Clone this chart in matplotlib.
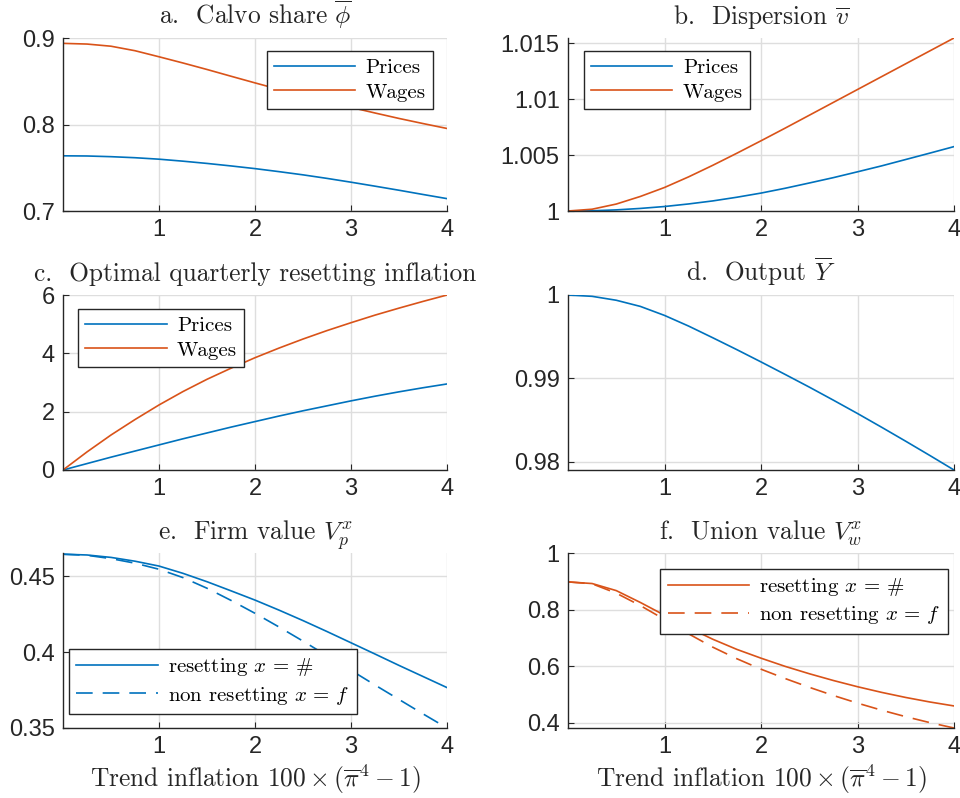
import matplotlib
matplotlib.use("Agg")
import matplotlib.pyplot as plt
from matplotlib.ticker import FixedLocator, FuncFormatter

plt.rcParams['mathtext.fontset'] = 'cm'
plt.rcParams['font.family'] = 'Liberation Sans'

BLUE = '#0072BD'
ORANGE = '#D95319'
DARK = '#262626'

# trend inflation grid (x axis)
infl = [0, 0.25, 0.5, 0.75, 1, 1.25, 1.5, 1.75, 2, 2.25, 2.5, 2.75, 3, 3.25, 3.5, 3.75, 4]

# a. Calvo share
calvo_p = [0.7638, 0.7636, 0.7628, 0.7616, 0.7599, 0.7576, 0.7550, 0.7521, 0.7490, 0.7455,
           0.7418, 0.7377, 0.7333, 0.7287, 0.7240, 0.7191, 0.7143]
calvo_w = [0.8938, 0.8930, 0.8905, 0.8853, 0.8783, 0.8711, 0.8636, 0.8558, 0.8481, 0.8406,
           0.8334, 0.8265, 0.8198, 0.8133, 0.8070, 0.8011, 0.7954]

# b. Dispersion
disp_p = [1.0, 1.00002, 1.0001, 1.00023, 1.0004, 1.00063, 1.0009, 1.00123, 1.0016, 1.00203,
          1.0025, 1.00298, 1.0035, 1.00403, 1.0046, 1.00517, 1.00575]
disp_w = [1.0, 1.00016, 1.00062, 1.0013, 1.0021, 1.00305, 1.00408, 1.00516, 1.00627, 1.0074,
          1.00855, 1.0097, 1.01085, 1.012, 1.01315, 1.0143, 1.01545]

# c. Optimal quarterly resetting inflation
reset_p = [0, 0.22, 0.44, 0.65, 0.86, 1.07, 1.27, 1.47, 1.66, 1.85, 2.03, 2.2, 2.37, 2.53,
           2.68, 2.82, 2.95]
reset_w = [0, 0.62, 1.2, 1.73, 2.23, 2.69, 3.11, 3.49, 3.85, 4.18, 4.49, 4.78, 5.05, 5.31,
           5.55, 5.78, 6.0]

# d. Output
output = [1.0, 0.99984, 0.99937, 0.99863, 0.99755, 0.99627, 0.99487, 0.99344, 0.99197, 0.99047,
          0.98895, 0.98738, 0.98578, 0.98413, 0.98245, 0.98074, 0.97900]

# e. Firm value
firm_reset = [0.4644, 0.4639, 0.4623, 0.4598, 0.4566, 0.4518, 0.4463, 0.4403, 0.4342, 0.4276,
              0.4207, 0.4135, 0.4061, 0.3987, 0.3912, 0.3839, 0.3766]
firm_nonreset = [0.4644, 0.4637, 0.4615, 0.4585, 0.4545, 0.4490, 0.4420, 0.4340, 0.4255, 0.4165,
                 0.4072, 0.3976, 0.3880, 0.3783, 0.3688, 0.3593, 0.3500]

# f. Union value
union_reset = [0.8978, 0.892, 0.867, 0.825, 0.780, 0.736, 0.695, 0.659, 0.628, 0.599,
               0.573, 0.549, 0.527, 0.507, 0.489, 0.473, 0.459]
union_nonreset = [0.8978, 0.891, 0.858, 0.814, 0.765, 0.714, 0.667, 0.626, 0.589, 0.556,
                  0.525, 0.496, 0.469, 0.444, 0.421, 0.400, 0.381]

titles = [r'a.  Calvo share $\overline{\phi}$',
          r'b.  Dispersion $\overline{v}$',
          r'c.  Optimal quarterly resetting inflation',
          r'd.  Output $\overline{Y}$',
          r'e.  Firm value $V_p^x$',
          r'f.  Union value $V_w^x$']
xlab = r'Trend inflation $100\times(\overline{\pi}^4-1)$'
lab_res = r'resetting $x\,=\,\#$'
lab_non = r'non resetting $x\,=\,f$'

W, H = 960, 798
fig = plt.figure(figsize=(W / 100, H / 100), dpi=100)


def make_ax(left, top, right, bottom):
    return fig.add_axes([left / W, 1 - bottom / H, (right - left) / W, (bottom - top) / H])


boxes = [(63, 38, 447, 211), (568, 38, 954, 211),
         (63, 295, 447, 470), (568, 295, 954, 470),
         (63, 553, 447, 728), (568, 553, 954, 728)]
axs = [make_ax(*b) for b in boxes]

serif = dict(family='cmr10', size=18.3)
legfont = dict(family='cmr10', size=15)


def style(ax, title, ylim, yticks):
    ax.set_xlim(0, 4)
    ax.set_ylim(*ylim)
    ax.xaxis.set_major_locator(FixedLocator([1, 2, 3, 4]))
    ax.yaxis.set_major_locator(FixedLocator(yticks))
    ax.yaxis.set_major_formatter(FuncFormatter(lambda v, p: f'{v:g}'))
    ax.grid(True, color='#dedede', linewidth=1.0)
    ax.set_axisbelow(True)
    for s in ['top', 'right']:
        ax.spines[s].set_visible(False)
    for s in ['left', 'bottom']:
        ax.spines[s].set_color(DARK)
        ax.spines[s].set_linewidth(1.0)
    ax.tick_params(direction='in', length=4, width=0.8, colors=DARK, labelsize=17, pad=6)
    ax.set_title(title, fontdict=serif, pad=10, color=DARK)


def leg(ax, loc, anchor):
    lg = ax.legend(loc=loc, bbox_to_anchor=anchor, prop=legfont, frameon=True, fancybox=False,
                   edgecolor=DARK, handlelength=3.9, borderpad=0.35, labelspacing=0.3,
                   handletextpad=0.5, borderaxespad=0)
    lg.get_frame().set_linewidth(1.0)
    lg.get_frame().set_alpha(1)


ax = axs[0]
ax.plot(infl, calvo_p, color=BLUE, lw=1.2, label='Prices')
ax.plot(infl, calvo_w, color=ORANGE, lw=1.2, label='Wages')
style(ax, titles[0], (0.7, 0.9), [0.7, 0.8, 0.9])
leg(ax, 'upper right', (0.964, 0.925))

ax = axs[1]
ax.plot(infl, disp_p, color=BLUE, lw=1.2, label='Prices')
ax.plot(infl, disp_w, color=ORANGE, lw=1.2, label='Wages')
style(ax, titles[1], (1.0, 1.01545), [1.0, 1.005, 1.01, 1.015])
leg(ax, 'upper left', (0.041, 0.925))

ax = axs[2]
ax.plot(infl, reset_p, color=BLUE, lw=1.2, label='Prices')
ax.plot(infl, reset_w, color=ORANGE, lw=1.2, label='Wages')
style(ax, titles[2], (0, 6), [0, 2, 4, 6])
leg(ax, 'upper left', (0.039, 0.92))

ax = axs[3]
ax.plot(infl, output, color=BLUE, lw=1.2)
style(ax, titles[3], (0.979, 1.0), [0.98, 0.99, 1.0])

ax = axs[4]
ax.plot(infl, firm_reset, color=BLUE, lw=1.2, label=lab_res)
ax.plot(infl, firm_nonreset, color=BLUE, lw=1.2, dashes=(10, 6), label=lab_non)
style(ax, titles[4], (0.35, 0.4652), [0.35, 0.4, 0.45])
leg(ax, 'lower left', (0.016, 0.08))
ax.set_xlabel(xlab, fontdict=serif, color=DARK, labelpad=3)

ax = axs[5]
ax.plot(infl, union_reset, color=ORANGE, lw=1.2, label=lab_res)
ax.plot(infl, union_nonreset, color=ORANGE, lw=1.2, dashes=(10, 6), label=lab_non)
style(ax, titles[5], (0.381, 1.0), [0.4, 0.6, 0.8, 1.0])
leg(ax, 'upper right', (0.984, 0.909))
ax.set_xlabel(xlab, fontdict=serif, color=DARK, labelpad=3)

fig.savefig('out.png', dpi=100, facecolor='white')
